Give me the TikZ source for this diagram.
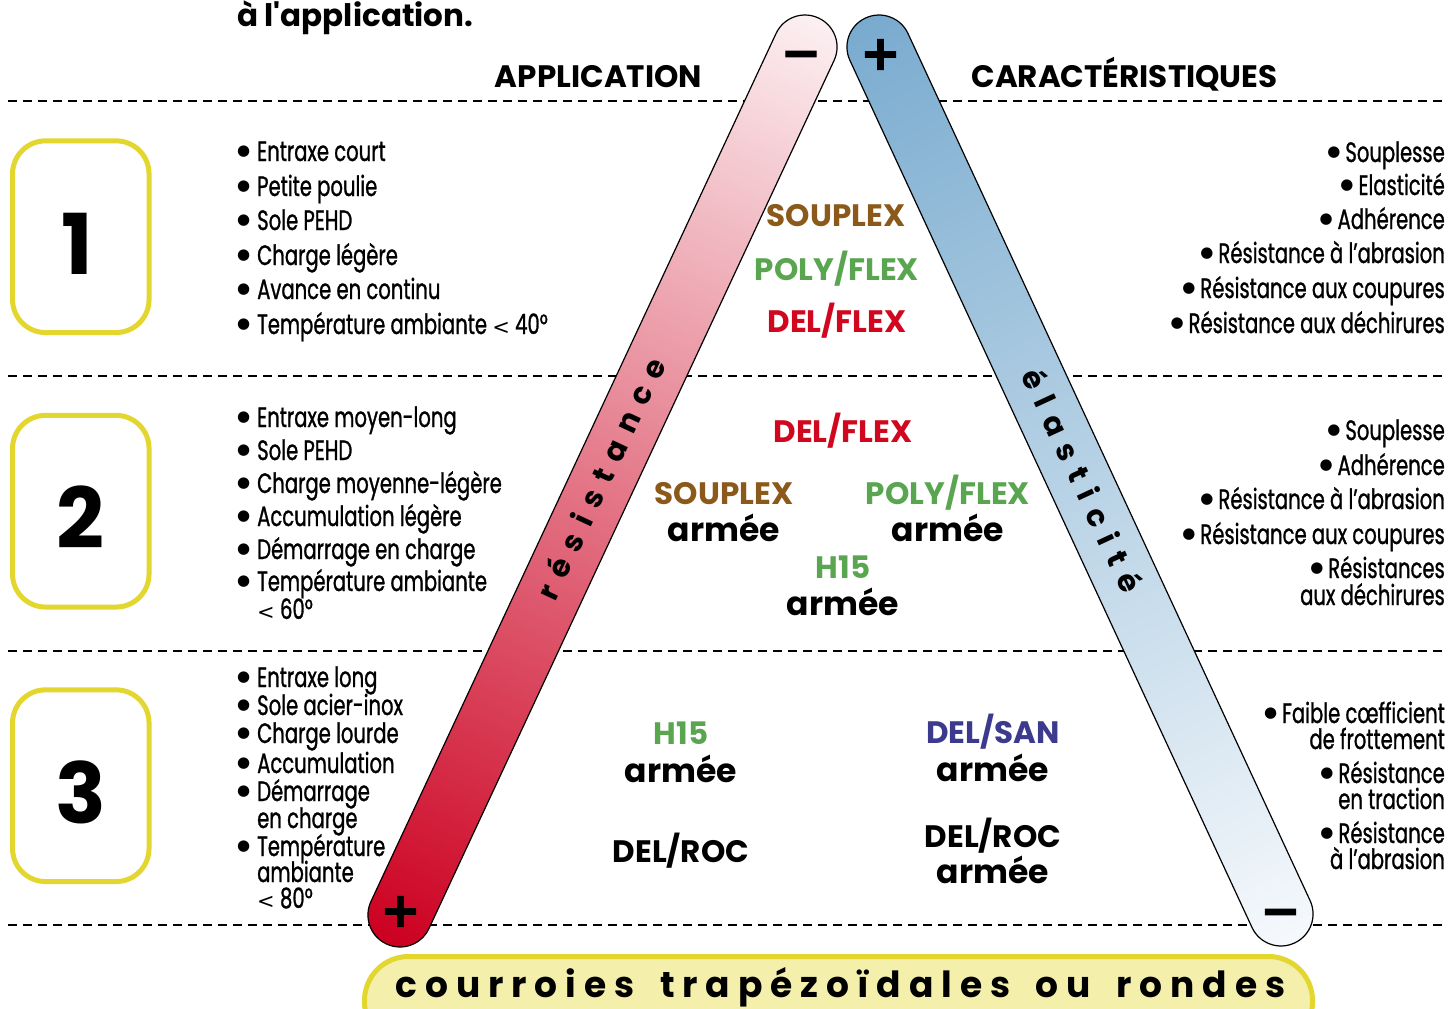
\documentclass[tikz,border=0pt]{standalone}
\usepackage{fontspec}
\setmainfont{Poppins}
\newfontfamily\condfont[FakeStretch=0.7, FakeBold=1]{Poppins}
\newfontfamily\trackfont[LetterSpace=37]{Poppins}
\newfontfamily\bandfont[LetterSpace=22]{Poppins}
\newfontfamily\signfont[FakeBold=2.5]{DejaVu Sans}
\newfontfamily\dotfont{DejaVu Sans}
\usetikzlibrary{calc}
\definecolor{boxyellow}{HTML}{E3D62F}
\definecolor{bandfill}{HTML}{F4F0AB}
\definecolor{souplexbrown}{HTML}{8B5A1B}
\definecolor{polygreen}{HTML}{5AA550}
\definecolor{delred}{HTML}{D0071E}
\definecolor{sanblue}{HTML}{3C3A8E}
\definecolor{barred}{HTML}{CC0020}
\definecolor{barpink}{HTML}{FCF0F2}
\definecolor{barblue}{HTML}{79ABCF}
\definecolor{barwhite}{HTML}{F6F9FC}
\newcommand{\bul}{\makebox[20pt][l]{\dotfont\fontsize{15}{15}\selectfont\raisebox{5.5pt}{●}}}
\newcommand{\bulr}{\makebox[18pt][l]{\dotfont\fontsize{15}{15}\selectfont\raisebox{5.5pt}{●}}}
\newcommand{\lessthan}{{\dotfont\fontsize{21}{21}\selectfont<}}
\tikzset{
  sepline/.style={dash pattern=on 9pt off 6pt, line width=2.4pt},
  barline/.style={draw=black, line width=1.2pt},
  numbox/.style={rectangle, rounded corners=33pt, draw=boxyellow, line width=5pt,
    minimum width=136.5pt, minimum height=191.7pt},
  digit/.style={font=\fontsize{84}{84}\selectfont\bfseries, anchor=base, inner sep=0pt},
  itemL/.style={font=\condfont\fontsize{28}{34}\selectfont, anchor=base west, inner sep=0pt,
    text height=18pt, text depth=4pt},
  itemR/.style={font=\condfont\fontsize{28}{34}\selectfont, anchor=base east, inner sep=0pt,
    text height=18pt, text depth=4pt},
  hdr/.style={font=\fontsize{31}{34}\selectfont\bfseries, anchor=base, inner sep=0pt},
  prodname/.style={font=\fontsize{31}{34}\selectfont\bfseries, anchor=base, inner sep=0pt},
  armee/.style={font=\fontsize{33}{36}\selectfont\bfseries, anchor=base, inner sep=0pt},
  bartxt/.style={font=\trackfont\fontsize{30}{30}\selectfont\bfseries, inner sep=0pt,
    text height=16pt, text depth=0pt},
  signtxt/.style={font=\signfont\fontsize{48}{48}\selectfont\bfseries, anchor=base, inner sep=0pt},
  bandbox/.style={rectangle, rounded corners=44pt, draw=boxyellow, fill=bandfill, line width=5pt,
    minimum width=948pt, minimum height=89.5pt},
}
\begin{document}
\begin{tikzpicture}[x=1pt, y=-1pt]
  \useasboundingbox (0,0) rectangle (1449,1009);
  % separators
  \foreach \yy in {101,376,651,925}
    \draw[sepline] (8,\yy) -- (1447,\yy);

  % the two bars
  \begin{scope}[transform canvas={shift={(602.5,481)}, rotate=64.98}]
    \shade[barline, left color=barred, right color=barpink, rounded corners=31.9pt]
      (-510.9,-32) rectangle (510.9,32);
  \end{scope}
  \begin{scope}[transform canvas={shift={(1080,480.5)}, rotate=-65.12}]
    \shade[barline, left color=barblue, right color=barwhite, rounded corners=31.9pt]
      (-509.8,-32) rectangle (509.8,32);
  \end{scope}
  \node[bartxt, rotate=64.98] (resist) at (604,480) {résistance};
  \node[bartxt, rotate=-65.12] (elast) at (1079,482) {élasticité};
  \node[signtxt] (lminus) at (801,69) {−};
  \node[signtxt] (rplus) at (880.5,69.5) {+};
  \node[signtxt] (lplus) at (400.5,926.5) {+};
  \node[signtxt] (rminus) at (1280.5,927) {−};

  % titles
  \node[hdr, anchor=base west] (title) at (237,26) {à l\textquotesingle application.};
  \node[hdr] (happ) at (598.5,87) {APPLICATION};
  \node[hdr] (hcar) at (1124.5,87) {CARACTÉRISTIQUES};

  % level boxes
  \node[numbox] (box1) at (80.8,236.7) {};
  \node[numbox] (box2) at (80.8,511.2) {};
  \node[numbox] (box3) at (80.8,785.7) {};
  \node[digit] (d1) at (77,274) {1};
  \node[digit] (d2) at (80.8,548.5) {2};
  \node[digit] (d3) at (80.8,823) {3};

  % application lists
  \foreach \yy/\lbl [count=\i] in {161/\bul Entraxe court, 196/\bul Petite poulie,
      230/\bul Sole PEHD, 265/\bul Charge légère, 299/\bul Avance en continu,
      334/\bul Température ambiante \lessthan{} 40°}
    \node[itemL] (ia\i) at (237,\yy) {\lbl};
  \foreach \yy/\lbl [count=\i] in {427/\bul Entraxe moyen-long, 460/\bul Sole PEHD,
      493/\bul Charge moyenne-légère, 526/\bul Accumulation légère,
      559/\bul Démarrage en charge, 591/\bul Température ambiante,
      619/\hspace*{20pt}\lessthan{} 60°}
    \node[itemL] (ib\i) at (237,\yy) {\lbl};
  \foreach \yy/\lbl [count=\i] in {687/\bul Entraxe long, 715/\bul Sole acier-inox,
      743/\bul Charge lourde, 773/\bul Accumulation, 801/\bul Démarrage,
      828/\hspace*{20pt}en charge, 856/\bul Température, 882/\hspace*{20pt}ambiante,
      908/\hspace*{20pt}\lessthan{} 80°}
    \node[itemL] (ic\i) at (237,\yy) {\lbl};

  % characteristic lists
  \foreach \yy/\lbl [count=\i] in {162/\bulr Souplesse, 195/\bulr Elasticité,
      229/\bulr Adhérence, 263/\bulr Résistance à l’abrasion,
      298/\bulr Résistance aux coupures, 333/\bulr Résistance aux déchirures}
    \node[itemR] (ra\i) at (1445,\yy) {\lbl};
  \foreach \yy/\lbl [count=\i] in {440/\bulr Souplesse, 475/\bulr Adhérence,
      509/\bulr Résistance à l’abrasion, 544/\bulr Résistance aux coupures,
      578/\bulr Résistances, 605/aux déchirures}
    \node[itemR] (rb\i) at (1445,\yy) {\lbl};
  \foreach \yy/\lbl [count=\i] in {723/\bulr Faible cœfficient, 749/de frottement,
      783/\bulr Résistance, 809/en traction, 843/\bulr Résistance, 869/à l’abrasion}
    \node[itemR] (rc\i) at (1445,\yy) {\lbl};

  % belts, level 1
  \node[prodname, text=souplexbrown] (p1a) at (836,226) {SOUPLEX};
  \node[prodname, text=polygreen] (p1b) at (837,280) {POLY/FLEX};
  \node[prodname, text=delred] (p1c) at (837,332) {DEL/FLEX};
  % belts, level 2
  \node[prodname, text=delred] (p2a) at (843,442) {DEL/FLEX};
  \node[prodname, text=souplexbrown] (p2b) at (724,504) {SOUPLEX};
  \node[armee] (p2barm) at (724,541) {armée};
  \node[prodname, text=polygreen] (p2c) at (948,504) {POLY/FLEX};
  \node[armee] (p2carm) at (948,541) {armée};
  \node[prodname, text=polygreen] (p2d) at (843,578) {H15};
  \node[armee] (p2darm) at (843,615) {armée};
  % belts, level 3
  \node[prodname, text=polygreen] (p3a) at (681,744) {H15};
  \node[armee] (p3aarm) at (681,782) {armée};
  \node[prodname, text=sanblue] (p3b) at (993,743) {DEL/SAN};
  \node[armee] (p3barm) at (993,781) {armée};
  \node[prodname] (p3c) at (681,862) {DEL/ROC};
  \node[prodname] (p3d) at (993,847) {DEL/ROC};
  \node[armee] (p3darm) at (993,883) {armée};

  % bottom band
  \node[bandbox] (band) at (838.5,1001.25) {};
  \node[font=\bandfont\fontsize{36}{36}\selectfont\bfseries, anchor=base, inner sep=0pt]
    (bandtxt) at (840.5,997)
    {courroies\hspace{10pt} trapézoïdales\hspace{10pt} ou\hspace{10pt} rondes};
\end{tikzpicture}
\end{document}
